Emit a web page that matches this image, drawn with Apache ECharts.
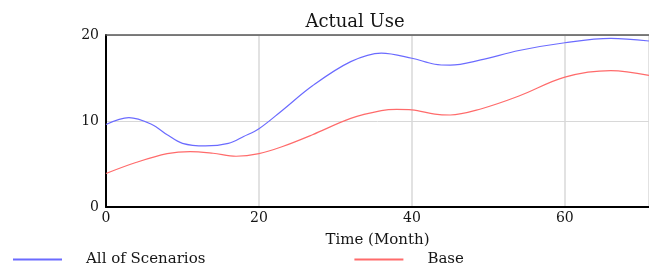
<!DOCTYPE html>
<html>
<head>
<meta charset="utf-8">
<script src="https://cdn.jsdelivr.net/npm/echarts@6/dist/echarts.min.js"></script>
<style>
  html, body { margin: 0; padding: 0; background: #fff; }
  #chart { width: 649px; height: 264px; }
</style>
</head>
<body>
<div id="chart"></div>
<script>
// months and values
var allScenarios = [
  [0, 9.6], [3, 10.4], [6, 9.6], [8, 8.4], [10, 7.4], [13, 7.1], [16, 7.4],
  [18, 8.2], [20, 9.1], [23, 11.2], [27, 14.1], [32, 16.9], [36, 17.9],
  [40, 17.3], [43, 16.6], [45, 16.5], [49, 17.1], [54, 18.2], [60, 19.1],
  [66, 19.6], [71, 19.3]
]
var base = [
  [0, 3.9], [4, 5.2], [8, 6.2], [11, 6.45], [14, 6.25], [17, 5.9], [20, 6.2],
  [23, 7.0], [27, 8.4], [32, 10.3], [36, 11.2], [38, 11.35], [40, 11.3],
  [43, 10.8], [45, 10.7], [49, 11.4], [54, 12.9], [60, 15.1], [66, 15.85],
  [71, 15.3]
]
var seriesNames = ['All of Scenarios', 'Base']
var seriesColors = ['#6b6bff', '#ff6b6b']

var font = 'DejaVu Serif'
var chart = echarts.init(document.getElementById('chart'))
chart.setOption({
  animation: false,
  title: {
    text: 'Actual Use',
    left: 350,
    textAlign: 'center',
    top: 8,
    textStyle: { fontFamily: font, fontWeight: 'normal', fontSize: 18, color: '#151515' }
  },
  legend: {
    left: 8,
    top: 247,
    itemWidth: 49,
    itemHeight: 2,
    itemGap: 149,
    icon: 'rect',
    data: seriesNames,
    textStyle: { fontFamily: font, fontSize: 15, color: '#151515', padding: [0, 0, 0, 19] }
  },
  grid: { left: 106, top: 35, right: 0, bottom: 57 },
  xAxis: [
    {
      type: 'value',
      min: 0,
      max: 71,
      interval: 20,
      name: 'Time (Month)',
      nameLocation: 'middle',
      nameGap: 26,
      nameTextStyle: { fontFamily: font, fontSize: 15, color: '#151515' },
      axisLine: { lineStyle: { color: '#000', width: 2 } },
      axisTick: { show: false },
      axisLabel: {
        fontFamily: font, fontSize: 14, color: '#151515', margin: 4,
        showMaxLabel: false
      },
      splitLine: { lineStyle: { color: '#d8d8d8', width: 1.5 } }
    },
    {
      type: 'value',
      position: 'top',
      min: 0,
      max: 71,
      axisLine: { show: true, lineStyle: { color: '#555', width: 1.5 } },
      axisTick: { show: false },
      axisLabel: { show: false },
      splitLine: { show: false }
    }
  ],
  yAxis: {
    type: 'value',
    min: 0,
    max: 20,
    interval: 10,
    axisLine: { show: true, lineStyle: { color: '#000', width: 2 } },
    axisTick: { show: false },
    axisLabel: { fontFamily: font, fontSize: 14, color: '#151515', margin: 7 },
    splitLine: { lineStyle: { color: '#d8d8d8', width: 1 } }
  },
  series: [
    {
      name: seriesNames[0],
      type: 'line',
      data: allScenarios,
      smooth: 0.35,
      showSymbol: false,
      lineStyle: { color: seriesColors[0], width: 1.2 },
      itemStyle: { color: seriesColors[0] }
    },
    {
      name: seriesNames[1],
      type: 'line',
      data: base,
      smooth: 0.35,
      showSymbol: false,
      lineStyle: { color: seriesColors[1], width: 1.2 },
      itemStyle: { color: seriesColors[1] }
    }
  ]
})
</script>
</body>
</html>
